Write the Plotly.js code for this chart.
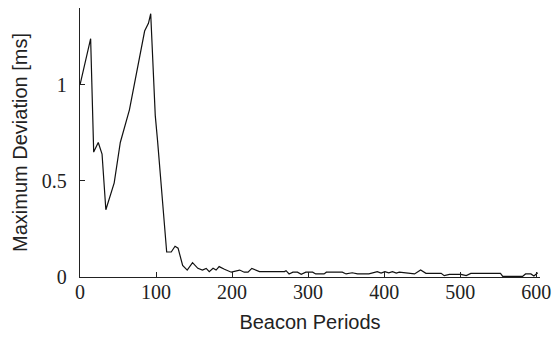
<!DOCTYPE html>
<html>
<head>
<meta charset="utf-8">
<script src="https://cdn.plot.ly/plotly-3.0.1.min.js"></script>
<style>html,body{margin:0;padding:0;background:#fff;}#chart{width:553px;height:340px;}</style>
</head>
<body>
<div id="chart"></div>
<script>
const beaconPeriods = [0,5,14,18,24,29,34,45,53,65,76,85,90,93,99,102,114,120,125,129,135,141,148,155,161,166,170,175,179,183,190,199,210,216,221,226,236,269,271,275,280,286,291,297,306,310,321,324,345,350,358,365,380,385,391,396,401,406,411,416,420,440,448,455,475,479,486,501,508,514,553,556,582,586,593,597,602];
const maxDeviation = [1.00,1.09,1.24,0.65,0.70,0.64,0.35,0.49,0.70,0.87,1.10,1.28,1.32,1.37,0.84,0.71,0.13,0.13,0.16,0.15,0.06,0.036,0.075,0.045,0.036,0.045,0.028,0.045,0.036,0.054,0.04,0.025,0.036,0.025,0.025,0.045,0.028,0.028,0.033,0.016,0.025,0.025,0.014,0.025,0.025,0.016,0.016,0.025,0.025,0.016,0.022,0.016,0.016,0.022,0.028,0.020,0.028,0.022,0.028,0.020,0.025,0.016,0.036,0.019,0.019,0.007,0.014,0.014,0.007,0.019,0.019,0.003,0.003,0.016,0.016,0.005,0.022];
const xTicks = [0,100,200,300,400,500,600];
const yTicks = [0,0.5,1];
const yTickText = ['0','0.5','1'];

const trace = {
  x: beaconPeriods, y: maxDeviation, type: 'scatter', mode: 'lines',
  line: {color: '#111', width: 1.2}, hoverinfo: 'none'
};
const serif = 'Liberation Serif';
const sans = 'Liberation Sans';
const layout = {
  width: 553, height: 340,
  margin: {l: 80, r: 13, t: 8, b: 63},
  paper_bgcolor: '#fff', plot_bgcolor: '#fff',
  showlegend: false,
  font: {family: serif, size: 20, color: '#222'},
  xaxis: {
    range: [0, 605], tickvals: xTicks, ticks: 'inside', ticklen: 5, tickwidth: 1, tickcolor: '#222',
    showline: true, linecolor: '#222', linewidth: 1.3, showgrid: false, zeroline: false,
    tickfont: {family: serif, size: 20, color: '#222'}, ticklabelstandoff: -3,
    title: {text: 'Beacon Periods', font: {family: sans, size: 20, color: '#222'}, standoff: 12}, automargin: false
  },
  yaxis: {
    range: [0, 1.4], tickvals: yTicks, ticktext: yTickText, ticks: 'inside', ticklen: 5, tickwidth: 1, tickcolor: '#222',
    showline: true, linecolor: '#222', linewidth: 1.3, showgrid: false, zeroline: false,
    tickfont: {family: serif, size: 20, color: '#222'}, ticklabelstandoff: 8,
    title: {text: 'Maximum Deviation [ms]', font: {family: sans, size: 20, color: '#222'}, standoff: 8}, automargin: false
  }
};
Plotly.newPlot('chart', [trace], layout, {displayModeBar: false, staticPlot: true});
</script>
</body>
</html>
